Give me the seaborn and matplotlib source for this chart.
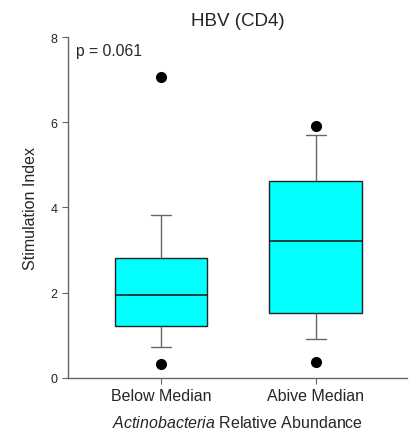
import numpy as np
import matplotlib
matplotlib.use("Agg")
import matplotlib.pyplot as plt
import seaborn as sns
import pandas as pd

groups = ["Below Median", "Abive Median"]
below_median = [0.32, 0.73, 1.05, 1.37, 1.60, 1.95, 2.30, 2.60, 3.00, 3.81, 7.05]
above_median = [0.37, 0.91, 1.35, 1.71, 2.50, 3.21, 3.90, 4.40, 4.84, 5.70, 5.92]
y_ticks = [0, 2, 4, 6, 8]
p_text = "p = 0.061"

df = pd.DataFrame({
    "group": [groups[0]] * len(below_median) + [groups[1]] * len(above_median),
    "si": below_median + above_median,
})

sns.set_style("white")
plt.rcParams["font.family"] = ["Liberation Sans", "DejaVu Sans"]
plt.rcParams["mathtext.fontset"] = "custom"
plt.rcParams["mathtext.it"] = "Liberation Sans:italic"
plt.rcParams["mathtext.rm"] = "Liberation Sans"

fig = plt.figure(figsize=(4.18, 4.35), dpi=100)
ax = fig.add_axes([0.163, 0.1294, 0.811, 0.7832])

sns.boxplot(data=df, x="group", y="si", order=groups, ax=ax,
            color="#00FFFF", width=0.6, whis=(10, 90), linewidth=1.0,
            saturation=1, capwidths=0.13,
            boxprops=dict(facecolor="#00FFFF", edgecolor="#222222"),
            medianprops=dict(color="#222222", linewidth=1.2),
            whiskerprops=dict(color="#666666"),
            capprops=dict(color="#666666"),
            flierprops=dict(marker="o", markerfacecolor="black",
                            markeredgecolor="black", markersize=7))

ax.set_xlim(-0.6, 1.59)
ax.set_ylim(0, 8)
ax.set_yticks(y_ticks)
ax.set_yticklabels([str(t) for t in y_ticks], fontsize=9)
ax.tick_params(axis="x", labelsize=11.5, length=4, color="#666666", direction="out", bottom=True)
ax.tick_params(axis="y", length=4, color="#666666", direction="out", left=True)

sns.despine(ax=ax)
for side in ["left", "bottom"]:
    ax.spines[side].set_color("#666666")
    ax.spines[side].set_linewidth(1.0)

ax.set_title("HBV (CD4)", fontsize=13.5, pad=9)
ax.set_ylabel("Stimulation Index", fontsize=11.5, labelpad=9)
ax.set_xlabel(r"$\mathit{Actinobacteria}$ Relative Abundance", fontsize=11.5, labelpad=8)

ax.text(0.024, 0.959, p_text, transform=ax.transAxes, fontsize=11.3,
        ha="left", va="center")

fig.savefig("out.png", dpi=100)
